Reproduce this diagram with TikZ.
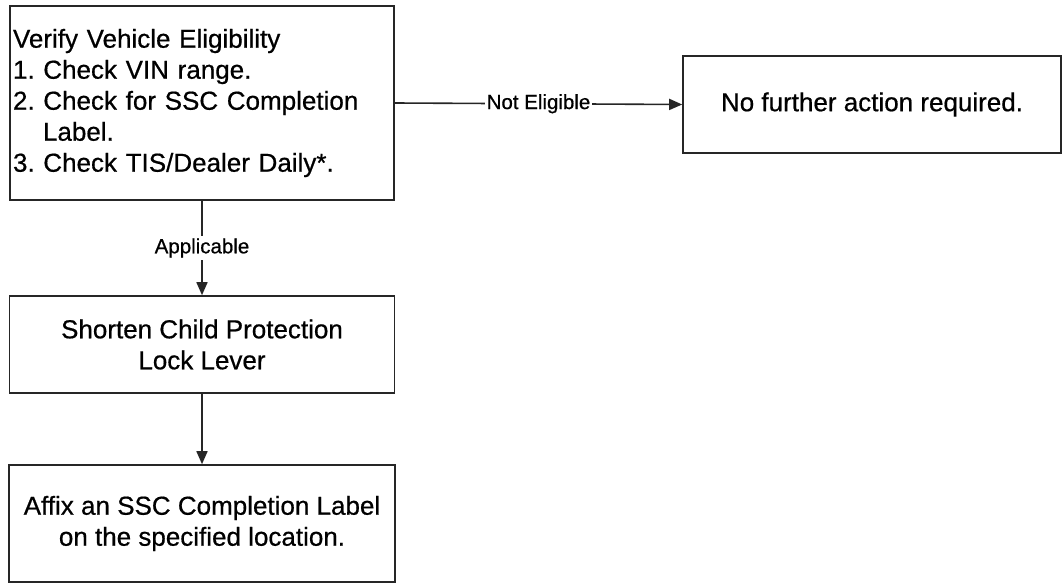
\documentclass[tikz,border=0pt]{standalone}
\usepackage{fontspec}
\setmainfont{Liberation Sans}
\newfontfamily\heavyfont[FakeBold=0.6]{Liberation Sans}
\usetikzlibrary{arrows.meta}
\begin{document}
\frenchspacing
\begin{tikzpicture}[x=1pt,y=-1pt,
  box/.style={draw=black!85, line width=1.6pt, inner sep=3pt,
    font=\heavyfont\fontsize{26}{31}\selectfont},
  conn/.style={draw=black!85, line width=1.6pt,
    -{Triangle[length=13pt,width=11pt]}},
  lbl/.style={fill=white, inner sep=2pt, font=\heavyfont\fontsize{20.5}{24}\selectfont}]
\useasboundingbox[fill=white] (0,0) rectangle (1062,583);
\node[box, minimum width=384pt, minimum height=194pt, text width=378pt, align=left]
  (verify) at (202,103) {Verify Vehicle Eligibility\\
  1. Check VIN range.\\
  2. Check for SSC Completion\\
  \hspace*{30pt}Label.\\
  3. Check TIS/Dealer Daily*.};
\node[box, minimum width=378pt, minimum height=97pt, align=center]
  (nofurther) at (872,104.5) {No further action required.};
\node[box, minimum width=385pt, minimum height=97pt, align=center]
  (shorten) at (202,344.5) {Shorten Child Protection\\Lock Lever};
\node[box, minimum width=386pt, minimum height=117pt, align=center]
  (affix) at (202,523.5) {Affix an SSC Completion Label\\on the specified location.};
\draw[conn] (verify.east) -- node[lbl] {Not Eligible} (nofurther.west);
\draw[conn] (verify.south) -- node[lbl] {Applicable} (shorten.north);
\draw[conn] (shorten.south) -- (affix.north);
\end{tikzpicture}
\end{document}
